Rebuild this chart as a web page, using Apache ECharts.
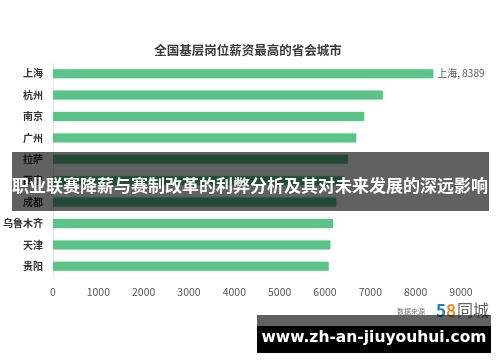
<!DOCTYPE html>
<html>
<head>
<meta charset="utf-8">
<script src="https://cdn.jsdelivr.net/npm/echarts@6/dist/echarts.min.js"></script>
<style>html,body{margin:0;padding:0;background:#fff;}#c{width:500px;height:362px;}</style>
</head>
<body>
<div id="c"></div>
<script>
var cities = ['上海', '杭州', '南京', '广州', '拉萨', '西宁', '成都', '乌鲁木齐', '天津', '贵阳'];
var salaries = [8389, 7274, 6864, 6689, 6506, 6400, 6250, 6177, 6118, 6081];
var xTicks = [0, 1000, 2000, 3000, 4000, 5000, 6000, 7000, 8000, 9000];
var chartTitle = '全国基层岗位薪资最高的省会城市';
var overlayTitle = '职业联赛降薪与赛制改革的利弊分析及其对未来发展的深远影响';
var siteText = 'www.zh-an-jiuyouhui.com';

var FONT = '"Noto Sans CJK SC", "Noto Sans", sans-serif';
var chart = echarts.init(document.getElementById('c'), null, {renderer: 'canvas'});
chart.setOption({
  backgroundColor: '#ffffff',
  animation: false,
  title: {
    text: chartTitle, left: 243, top: 39, textAlign: 'center',
    textStyle: {fontFamily: FONT, fontSize: 12.5, fontWeight: 'bold', color: '#3a3a3a'}
  },
  grid: {left: 51, right: 39, top: 63, bottom: 85, containLabel: false},
  xAxis: {
    type: 'value', min: xTicks[0], max: xTicks[xTicks.length - 1], interval: 1000,
    axisLine: {show: false}, axisTick: {show: false}, splitLine: {show: false},
    axisLabel: {fontFamily: FONT, fontSize: 10.5, color: '#555', margin: 10,
                formatter: function (v) { return String(v); }}
  },
  yAxis: {
    type: 'category', data: cities, inverse: true,
    axisLine: {show: true, lineStyle: {color: '#e6e6e6', width: 1}},
    axisTick: {show: false},
    axisLabel: {fontFamily: FONT, fontSize: 10, fontWeight: 'bold', color: '#333', margin: 10}
  },
  series: [{
    type: 'bar', data: salaries, barWidth: 9,
    itemStyle: {color: '#5cc28a', shadowBlur: 3, shadowColor: 'rgba(92,194,138,0.45)'},
    label: {
      show: true, position: 'right', distance: 4,
      fontFamily: FONT, fontSize: 10, color: '#555',
      formatter: function (p) { return p.dataIndex === 0 ? p.name + ', ' + p.value : ''; }
    }
  }],
  graphic: [
    {type: 'text', left: 397, top: 308, z: 50,
     style: {text: '数据来源', fontFamily: FONT, fontSize: 7, fill: '#777'}},
    {type: 'text', left: 436, top: 302, z: 50,
     style: {text: '5', fontFamily: FONT, fontSize: 17, fontWeight: 'bold', fill: '#2b7bc0'}},
    {type: 'text', left: 446, top: 302, z: 50,
     style: {text: '8', fontFamily: FONT, fontSize: 17, fontWeight: 'bold', fill: '#e98a2c'}},
    {type: 'text', left: 457, top: 302, z: 50,
     style: {text: '同城', fontFamily: FONT, fontSize: 16, fill: '#666'}},
    {type: 'rect', shape: {x: 12, y: 152, width: 477, height: 59}, z: 100,
     style: {fill: 'rgba(0,0,0,0.62)'}},
    {type: 'text', x: 250, y: 186, z: 101,
     style: {text: overlayTitle, fontFamily: FONT, fontSize: 17, fontWeight: 'bold', fill: '#fff',
             align: 'center', verticalAlign: 'middle'}},
    {type: 'rect', shape: {x: 257, y: 315, width: 234, height: 11}, z: 100,
     style: {fill: 'rgba(0,0,0,0.62)'}},
    {type: 'rect', shape: {x: 257, y: 326, width: 234, height: 27}, z: 100,
     style: {fill: '#000'}},
    {type: 'text', x: 374, y: 338, z: 101,
     style: {text: siteText, fontFamily: '"DejaVu Sans", sans-serif', fontSize: 15.5, fontWeight: 'bold', fill: '#fff',
             align: 'center', verticalAlign: 'middle'}}
  ]
});
</script>
</body>
</html>
